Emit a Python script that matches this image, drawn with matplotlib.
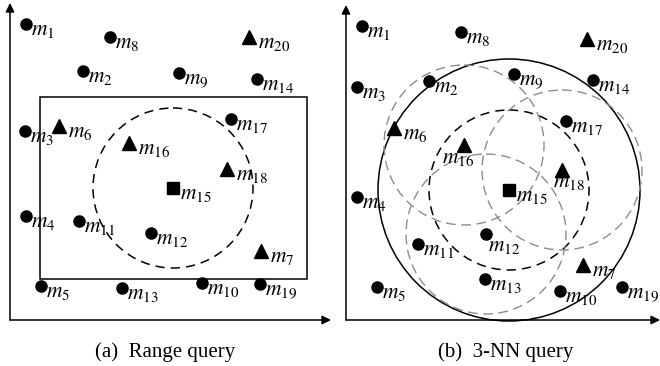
import matplotlib.pyplot as plt
from matplotlib.patches import Circle, Rectangle

# ---- data (figure pixel coordinates, y grows downward) ----
NAMES = [f"m_{{{i}}}" for i in range(1, 21)]
KINDS = ["o", "o", "o", "o", "o", "^", "^", "o", "o", "o",
         "o", "o", "o", "o", "s", "^", "o", "^", "o", "^"]

# (a) range query
A_X = [26, 83, 25, 26, 41, 59, 261, 110, 179, 202,
       79, 151, 122, 257, 173, 129, 231, 227, 260, 249]
A_Y = [24, 71, 131, 216, 286, 126, 251, 37, 73, 283,
       221, 233, 288, 79, 188, 143, 119, 169, 284, 37]
A_RECT = (40, 97, 307, 279)  # left, top, right, bottom
A_RADIUS = 80

# (b) 3-NN query
B_X = [362, 429, 357, 357, 377, 394, 583, 461, 514, 560,
       418, 486, 485, 593, 509, 464, 566, 562, 622, 587]
B_Y = [26, 81, 87, 197, 287, 128, 265, 32, 74, 291,
       244, 234, 279, 80, 190, 145, 121, 170, 287, 39]
B_NN = [16, 18, 12]          # centres of the grey circles
B_RADIUS_IN = 80
B_RADIUS_OUT = 131

CAPTIONS = ["(a)  Range query", "(b)  3-NN query"]

plt.rcParams["mathtext.fontset"] = "stix"

MARKER_SIZE = {"o": 8, "^": 9.5, "s": 8}
LABEL_DX = {"o": 5, "^": 9, "s": 7}
# labels that are not to the right of the marker in panel (b)
B_LABEL_SHIFT = {16: (-22, 18), 18: (-9, 17), 12: (2, 17)}


def draw_axes_arrows(ax, x0, y0, x1, y_top):
    style = dict(arrowstyle="-|>", color="black", lw=1.1,
                 mutation_scale=13, shrinkA=0, shrinkB=0)
    ax.annotate("", xy=(x0, y_top), xytext=(x0, y0), arrowprops=style)
    ax.annotate("", xy=(x1, y0), xytext=(x0, y0), arrowprops=style)


def draw_points(ax, xs, ys, shifts=None):
    shifts = shifts or {}
    for i, (x, y, kind) in enumerate(zip(xs, ys, KINDS)):
        ax.plot(x, y, marker=kind, color="black", ms=MARKER_SIZE[kind],
                linestyle="none", zorder=5)
        dx, dy = shifts.get(i + 1, (LABEL_DX[kind], 11))
        ax.text(x + dx, y + dy, f"${NAMES[i]}$", fontsize=15.5,
                ha="left", va="baseline", zorder=6)


fig = plt.figure(figsize=(6.6, 3.66), dpi=100)
ax = fig.add_axes([0, 0, 1, 1])
ax.set_xlim(0, 660)
ax.set_ylim(366, 0)
ax.axis("off")

# ---- panel (a) ----
draw_axes_arrows(ax, 10, 320, 331, 3)
left, top, right, bottom = A_RECT
ax.add_patch(Rectangle((left, top), right - left, bottom - top,
                       fill=False, ec="black", lw=1.1))
ax.add_patch(Circle((A_X[14], A_Y[14]), A_RADIUS, fill=False, ec="black",
                    lw=1.1, linestyle=(0, (6, 4))))
draw_points(ax, A_X, A_Y)

# ---- panel (b) ----
draw_axes_arrows(ax, 346, 320, 660, 5)
cx, cy = B_X[14], B_Y[14]
ax.add_patch(Circle((cx, cy), B_RADIUS_OUT, fill=False, ec="black", lw=1.1))
ax.add_patch(Circle((cx, cy), B_RADIUS_IN, fill=False, ec="black",
                    lw=1.1, linestyle=(0, (6, 4))))
for k in B_NN:
    ax.add_patch(Circle((B_X[k - 1], B_Y[k - 1]), B_RADIUS_IN, fill=False,
                        ec="#8c8c8c", lw=1.0, linestyle=(0, (7, 4))))
draw_points(ax, B_X, B_Y, B_LABEL_SHIFT)

# captions
for x, text in zip([165, 506], CAPTIONS):
    ax.text(x, 352, text, fontsize=15, family="Liberation Serif",
            ha="center", va="center")

fig.savefig("out.png", dpi=100)
